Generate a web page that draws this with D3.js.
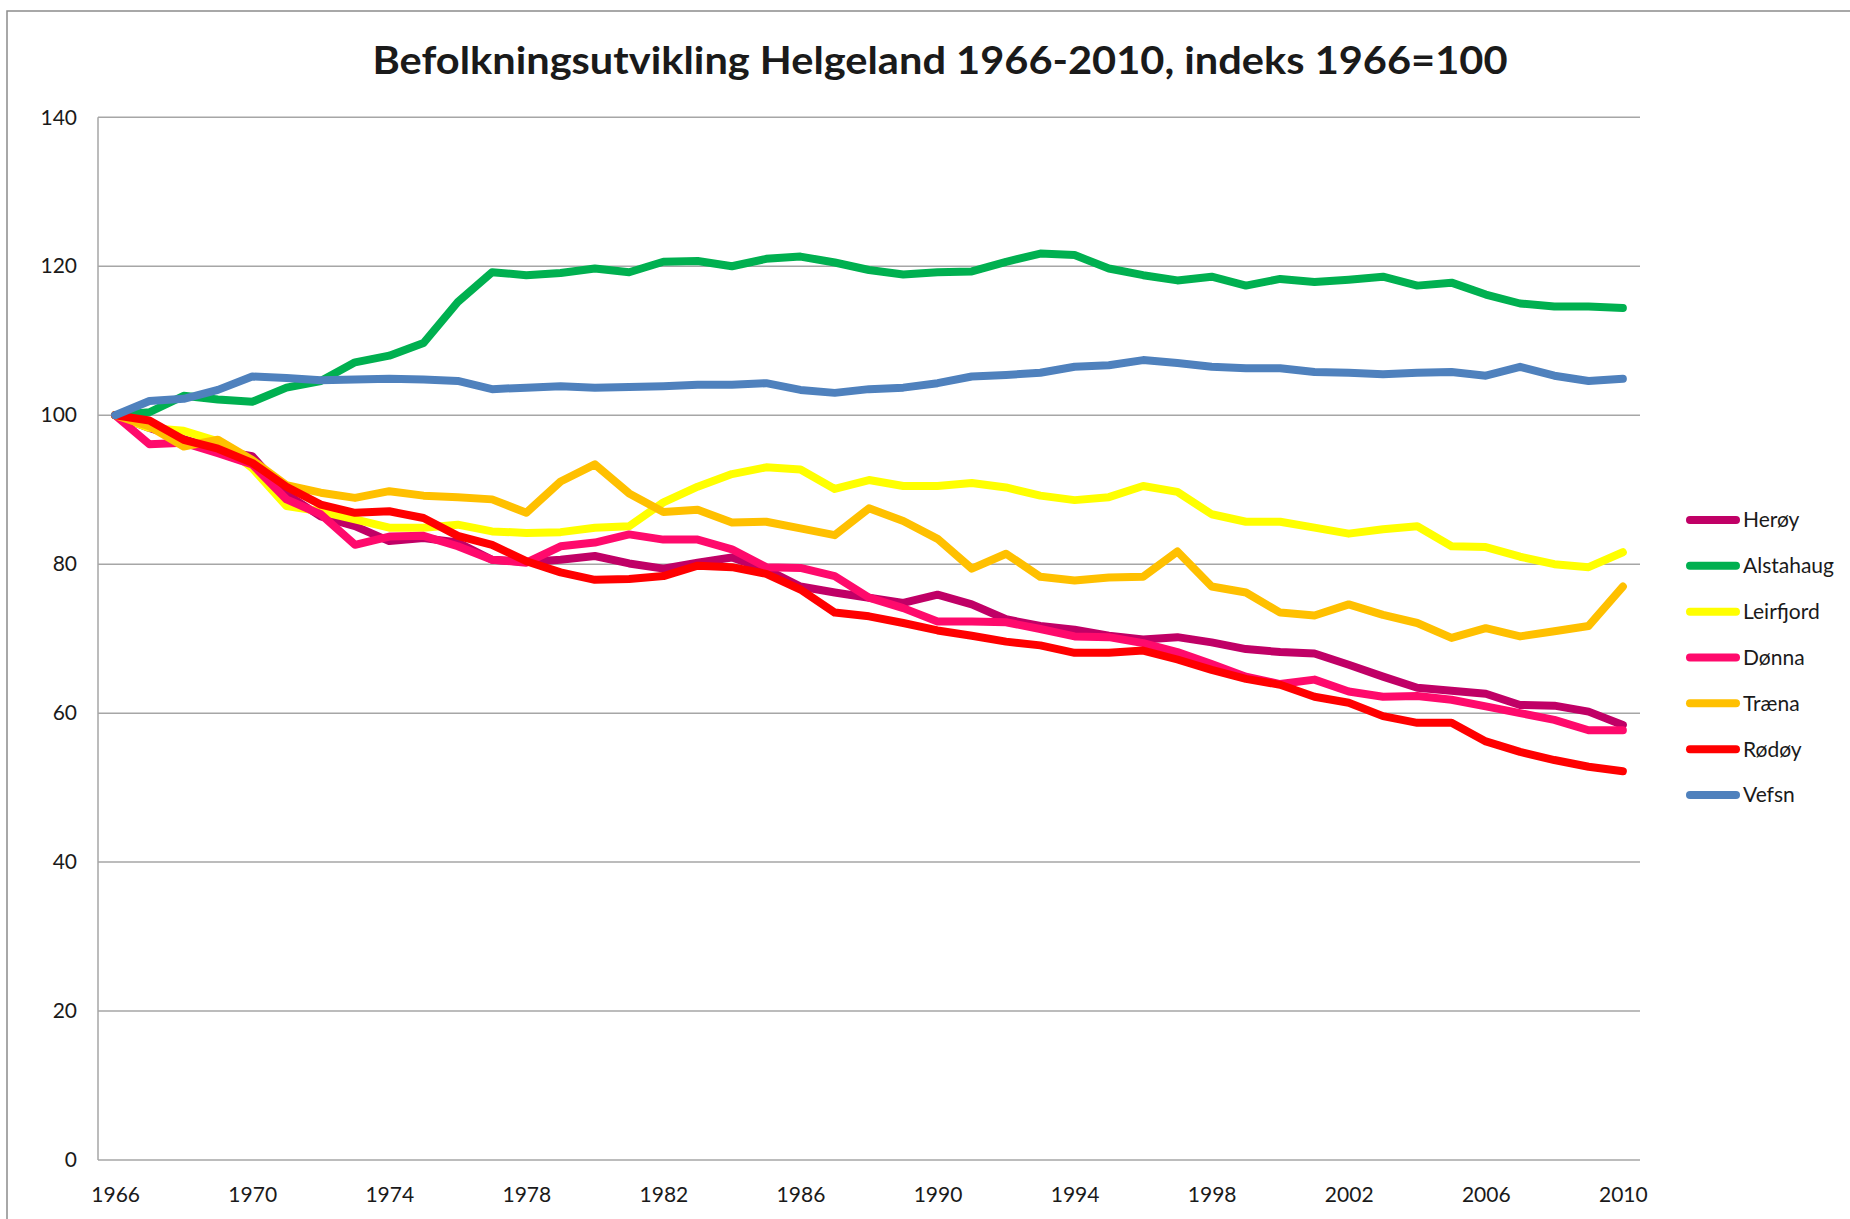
<!DOCTYPE html>
<html>
<head>
<meta charset="utf-8">
<script src="https://cdn.jsdelivr.net/npm/d3@7/dist/d3.min.js"></script>
<style>
  html, body { margin: 0; padding: 0; background: #ffffff; }
  svg { display: block; }
  text { font-family: Lato, "Noto Sans", sans-serif; fill: #1a1a1a; }
</style>
</head>
<body>
<div id="chart"></div>
<script>
// ---- Data ----
const years = d3.range(1966, 2011);
const yTicks = [0, 20, 40, 60, 80, 100, 120, 140];
const xTickYears = [1966, 1970, 1974, 1978, 1982, 1986, 1990, 1994, 1998, 2002, 2006, 2010];

const heroy = [100, 98.3, 96.8, 95.3, 94.5, 89.4, 86.4, 85.1, 83.1, 83.5, 82.9, 80.6, 80.3, 80.6, 81.1, 80.1, 79.4, 80.2, 80.9, 79.3, 77.0, 76.2, 75.5, 74.8, 75.9, 74.6, 72.6, 71.7, 71.2, 70.4, 69.9, 70.2, 69.5, 68.6, 68.2, 68.0, 66.5, 64.9, 63.4, 63.0, 62.6, 61.1, 61.0, 60.2, 58.4];
const alstahaug = [100, 100.4, 102.6, 102.1, 101.8, 103.7, 104.6, 107.1, 108.0, 109.7, 115.2, 119.2, 118.8, 119.1, 119.7, 119.2, 120.6, 120.7, 120.0, 121.0, 121.3, 120.5, 119.5, 118.9, 119.2, 119.3, 120.6, 121.7, 121.5, 119.7, 118.8, 118.1, 118.6, 117.4, 118.3, 117.9, 118.2, 118.6, 117.4, 117.8, 116.2, 115.0, 114.6, 114.6, 114.4];
const leirfjord = [100, 98.3, 97.9, 96.5, 92.9, 87.8, 87.1, 86.0, 84.9, 84.9, 85.3, 84.4, 84.2, 84.3, 84.9, 85.1, 88.3, 90.4, 92.1, 93.0, 92.7, 90.1, 91.3, 90.5, 90.5, 90.9, 90.3, 89.2, 88.6, 89.0, 90.5, 89.7, 86.7, 85.7, 85.7, 84.9, 84.1, 84.7, 85.1, 82.4, 82.3, 81.0, 80.0, 79.6, 81.6];
const donna = [100, 96.1, 96.3, 94.9, 93.4, 88.7, 86.7, 82.6, 83.7, 83.8, 82.4, 80.6, 80.2, 82.4, 82.9, 84.0, 83.3, 83.3, 82.0, 79.6, 79.5, 78.4, 75.5, 74.1, 72.3, 72.3, 72.2, 71.3, 70.3, 70.2, 69.4, 68.2, 66.6, 64.9, 63.9, 64.5, 62.9, 62.2, 62.3, 61.8, 60.9, 60.0, 59.1, 57.7, 57.7];
const traena = [100, 98.5, 95.8, 96.7, 94.0, 90.6, 89.6, 88.9, 89.8, 89.2, 89.0, 88.7, 86.9, 91.1, 93.4, 89.5, 87.0, 87.3, 85.6, 85.7, 84.8, 83.9, 87.5, 85.8, 83.4, 79.4, 81.4, 78.3, 77.8, 78.2, 78.3, 81.7, 77.0, 76.2, 73.5, 73.1, 74.6, 73.2, 72.1, 70.1, 71.4, 70.3, 71.0, 71.7, 77.0];
const rodoy = [100, 99.3, 96.7, 95.5, 93.6, 90.4, 88.0, 86.9, 87.1, 86.2, 83.8, 82.6, 80.4, 78.9, 77.9, 78.0, 78.4, 79.8, 79.6, 78.7, 76.6, 73.5, 73.0, 72.1, 71.1, 70.4, 69.6, 69.1, 68.1, 68.1, 68.4, 67.2, 65.8, 64.6, 63.8, 62.2, 61.4, 59.6, 58.7, 58.7, 56.2, 54.8, 53.7, 52.8, 52.2];
const vefsn = [100, 101.9, 102.2, 103.4, 105.2, 105.0, 104.7, 104.8, 104.9, 104.8, 104.6, 103.5, 103.7, 103.9, 103.7, 103.8, 103.9, 104.1, 104.1, 104.3, 103.4, 103.0, 103.5, 103.7, 104.3, 105.2, 105.4, 105.7, 106.5, 106.7, 107.4, 107.0, 106.5, 106.3, 106.3, 105.8, 105.7, 105.5, 105.7, 105.8, 105.3, 106.5, 105.3, 104.6, 104.9];

const seriesNames = ["Herøy", "Alstahaug", "Leirfjord", "Dønna", "Træna", "Rødøy", "Vefsn"];
const seriesValues = [heroy, alstahaug, leirfjord, donna, traena, rodoy, vefsn];
const seriesColors = ["#C00066", "#00B050", "#FFFF00", "#FF0A6C", "#FFC000", "#FF0000", "#4F81BD"];

const titleText = "Befolkningsutvikling Helgeland 1966-2010, indeks 1966=100";

// ---- Layout ----
const W = 1850, H = 1219;
const plot = { left: 98, right: 1640, top: 117.3, bottom: 1160 };

const svg = d3.select("#chart").append("svg")
  .attr("width", W).attr("height", H);

// chart frame
svg.append("rect")
  .attr("x", 7).attr("y", 11)
  .attr("width", W + 50).attr("height", H + 50)
  .attr("fill", "#ffffff")
  .attr("stroke", "#8c8c8c").attr("stroke-width", 1.5);

const x = d3.scalePoint().domain(years).range([plot.left, plot.right]).padding(0.5);
const y = d3.scaleLinear().domain([0, 140]).range([plot.bottom, plot.top]);

// gridlines
svg.append("g").selectAll("line").data(yTicks).join("line")
  .attr("x1", plot.left).attr("x2", plot.right)
  .attr("y1", d => y(d)).attr("y2", d => y(d))
  .attr("stroke", "#a6a6a6").attr("stroke-width", 1.5);

// left axis line
svg.append("line")
  .attr("x1", plot.left).attr("x2", plot.left)
  .attr("y1", plot.top).attr("y2", plot.bottom)
  .attr("stroke", "#a6a6a6").attr("stroke-width", 1.5);

// y axis labels
const yAxis = svg.append("g")
  .attr("transform", `translate(${plot.left},0)`)
  .call(d3.axisLeft(y).tickValues(yTicks).tickSize(0).tickPadding(21).tickFormat(d3.format("d")));
yAxis.select(".domain").remove();
yAxis.selectAll("text").style("font-size", "21px").style("font-family", "Lato, sans-serif").attr("fill", "#1a1a1a");

// x axis labels
const xAxis = svg.append("g")
  .attr("transform", `translate(0,${plot.bottom})`)
  .call(d3.axisBottom(x).tickValues(xTickYears).tickSize(0).tickPadding(27));
xAxis.select(".domain").remove();
xAxis.selectAll("text").style("font-size", "21px").style("font-family", "Lato, sans-serif").attr("fill", "#1a1a1a");

// lines
const line = d3.line()
  .x((d, i) => x(years[i]))
  .y(d => y(d));

svg.append("g").selectAll("path").data(seriesValues).join("path")
  .attr("d", d => line(d))
  .attr("fill", "none")
  .attr("stroke", (d, i) => seriesColors[i])
  .attr("stroke-width", 8)
  .attr("stroke-linejoin", "round")
  .attr("stroke-linecap", "round");

// legend
const legendY = d3.scalePoint().domain(seriesNames).range([520, 795]);
const lg = svg.append("g");
const items = lg.selectAll("g").data(seriesNames).join("g")
  .attr("transform", d => `translate(0,${legendY(d)})`);
items.append("line")
  .attr("x1", 1690).attr("x2", 1736)
  .attr("y1", 0).attr("y2", 0)
  .attr("stroke", (d, i) => seriesColors[i])
  .attr("stroke-width", 8)
  .attr("stroke-linecap", "round");
items.append("text")
  .attr("x", 1743).attr("y", 0).attr("dy", "0.35em")
  .style("font-size", "21px")
  .text(d => d);

// title
svg.append("text")
  .attr("x", 940).attr("y", 74)
  .attr("text-anchor", "middle")
  .style("font-size", "38px").style("font-weight", "bold")
  .attr("textLength", 1135).attr("lengthAdjust", "spacingAndGlyphs")
  .text(titleText);
</script>
</body>
</html>
